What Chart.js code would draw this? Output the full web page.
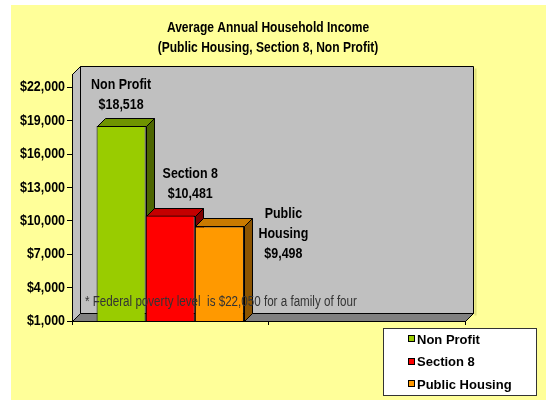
<!DOCTYPE html>
<html>
<head>
<meta charset="utf-8">
<title>Average Annual Household Income</title>
<script src="https://cdn.jsdelivr.net/npm/chart.js@4.4.1/dist/chart.umd.min.js"></script>
<style>
  html, body { margin: 0; padding: 0; background: #ffffff; }
  #wrap { position: absolute; left: 11px; top: 5px; width: 535px; height: 395px; background: #ffff99; }
</style>
</head>
<body>
<div id="wrap"><canvas id="incomeChart" width="535" height="395"></canvas></div>
<script>
// Chart data
const titleLines = ['Average Annual Household Income', '(Public Housing, Section 8, Non Profit)'];
const categories = ['', ''];
const seriesNames = ['Non Profit', 'Section 8', 'Public Housing'];
const nonProfitIncome = [18518, null];
const section8Income = [10481, null];
const publicHousingIncome = [9498, null];
const yTicks = [1000, 4000, 7000, 10000, 13000, 16000, 19000, 22000];
const yMin = 1000;
const yMax = 23200;
const barLabelLines = [['Non Profit'], ['Section 8'], ['Public', 'Housing']];
const footnote = '* Federal poverty level  is $22,050 for a family of four';

// Look
const FONT = "'Liberation Sans', Arial, sans-serif";
const SQUEEZE = 0.83; // the original uses a narrow face
const frontColors = ['#99cc00', '#ff0000', '#ff9900'];
const topColors = ['#6f9400', '#c40000', '#c97a00'];
const sideColors = ['#4d6600', '#800000', '#8c5400'];
const depth = { x: 8, y: -8 };
// where each bar label sits: dx from bar centre, dy of the last line from bar top
const labelPlacement = [{ dx: 0, dy: -21 }, { dx: 20, dy: -22 }, { dx: 64, dy: 27 }];

function formatMoney(v) {
    return '$' + Number(v).toLocaleString('en-US');
}

function px(v) {
    return Math.round(v) + 0.5;
}

function poly(ctx, pts, fill) {
    ctx.beginPath();
    ctx.moveTo(pts[0][0], pts[0][1]);
    for (let i = 1; i < pts.length; i++) ctx.lineTo(pts[i][0], pts[i][1]);
    ctx.closePath();
    ctx.fillStyle = fill;
    ctx.fill();
    ctx.stroke();
}

// text drawn a bit condensed, like Arial Narrow
function narrowText(ctx, text, x, y, align) {
    ctx.save();
    ctx.translate(x, y);
    ctx.scale(SQUEEZE, 1);
    ctx.textAlign = align;
    ctx.textBaseline = 'middle';
    ctx.fillText(text, 0, 0);
    ctx.restore();
}

// Excel style 3D box: walls, floor, bar tops and sides, text
const threeD = {
    id: 'threeD',
    beforeDraw(chart) {
        const { ctx, chartArea: a } = chart;
        const dx = depth.x, dy = depth.y;
        const L = px(a.left), R = px(a.right), T = px(a.top), B = px(a.bottom);
        ctx.save();
        ctx.lineWidth = 1;
        ctx.strokeStyle = '#000';

        // soft shadow right of the back wall
        ctx.fillStyle = '#e0e07c';
        ctx.fillRect(R + dx + 1, T + dy + 2, 2, B - T);

        // back wall
        poly(ctx, [[L + dx, T + dy], [R + dx, T + dy], [R + dx, B + dy], [L + dx, B + dy]], '#c0c0c0');
        // left wall
        poly(ctx, [[L, T], [L + dx, T + dy], [L + dx, B + dy], [L, B]], '#c0c0c0');
        // floor
        poly(ctx, [[L, B], [L + dx, B + dy], [R + dx, B + dy], [R, B]], '#808080');
        ctx.restore();
    },
    beforeDatasetsDraw(chart) {
        const { ctx, chartArea: a } = chart;
        const dx = depth.x, dy = depth.y;
        ctx.save();
        ctx.lineWidth = 1;
        ctx.strokeStyle = '#000';
        chart.data.datasets.forEach((ds, i) => {
            const meta = chart.getDatasetMeta(i);
            meta.data.forEach((bar, j) => {
                if (ds.data[j] == null) return;
                const p = bar.getProps(['x', 'y', 'base', 'width'], true);
                const l = px(p.x - p.width / 2), r = px(p.x + p.width / 2);
                const t = px(p.y), b = px(Math.min(p.base, a.bottom));
                poly(ctx, [[l, t], [l + dx, t + dy], [r + dx, t + dy], [r, t]], topColors[i]);
                poly(ctx, [[r, t], [r + dx, t + dy], [r + dx, b + dy], [r, b]], sideColors[i]);
            });
        });
        ctx.restore();
    },
    afterDraw(chart) {
        const { ctx, chartArea: a } = chart;
        const yScale = chart.scales.y;
        ctx.save();
        ctx.fillStyle = '#000';

        // title
        ctx.font = 'bold 14.5px ' + FONT;
        titleLines.forEach((line, k) => narrowText(ctx, line, 257, 23 + k * 20, 'center'));

        // value axis labels
        ctx.font = 'bold 15px ' + FONT;
        yTicks.forEach(v => narrowText(ctx, formatMoney(v), a.left - 7, yScale.getPixelForValue(v), 'right'));

        // labels over the bars
        chart.data.datasets.forEach((ds, i) => {
            const bar = chart.getDatasetMeta(i).data[0];
            const lines = barLabelLines[i].concat([formatMoney(ds.data[0])]);
            const pl = labelPlacement[i];
            const cx = bar.x + pl.dx;
            const lastY = bar.y + pl.dy;
            lines.forEach((line, k) => {
                narrowText(ctx, line, cx, lastY - (lines.length - 1 - k) * 20, 'center');
            });
        });

        // footnote
        ctx.font = '14px ' + FONT;
        ctx.fillStyle = '#333';
        narrowText(ctx, footnote, a.left + 13, a.bottom - 19, 'left');

        // legend box
        ctx.fillStyle = '#fff';
        ctx.fillRect(372, 323, 153, 67);
        ctx.strokeStyle = '#333';
        ctx.lineWidth = 1;
        ctx.strokeRect(372.5, 323.5, 153, 67);
        ctx.font = 'bold 13px ' + FONT;
        ctx.textAlign = 'left';
        ctx.textBaseline = 'middle';
        ctx.strokeStyle = '#000';
        chart.data.datasets.forEach((ds, i) => {
            const cy = 334 + i * 22.5;
            ctx.fillStyle = ds.backgroundColor;
            ctx.fillRect(397, Math.round(cy) - 4, 7, 7);
            ctx.strokeRect(397.5, Math.round(cy) - 3.5, 6, 6);
            ctx.fillStyle = '#000';
            ctx.fillText(ds.label, 406, cy + 1);
        });
        ctx.restore();
    }
};

new Chart(document.getElementById('incomeChart'), {
    type: 'bar',
    data: {
        labels: categories,
        datasets: [
            { label: seriesNames[0], data: nonProfitIncome, backgroundColor: frontColors[0] },
            { label: seriesNames[1], data: section8Income, backgroundColor: frontColors[1] },
            { label: seriesNames[2], data: publicHousingIncome, backgroundColor: frontColors[2] }
        ]
    },
    options: {
        responsive: false,
        animation: false,
        layout: { padding: { left: 0, right: 81, top: 69, bottom: 75 } },
        datasets: {
            bar: {
                barPercentage: 1,
                categoryPercentage: 0.75,
                borderWidth: 1,
                borderColor: '#000',
                borderSkipped: false
            }
        },
        plugins: {
            legend: { display: false },
            tooltip: { enabled: false },
            title: { display: false }
        },
        scales: {
            x: {
                ticks: { display: false },
                grid: { offset: true, drawOnChartArea: false, color: '#000', tickLength: 4 },
                border: { color: '#000' },
                afterFit(scale) { scale.height = 4; }
            },
            y: {
                min: yMin,
                max: yMax,
                afterBuildTicks(scale) {
                    scale.ticks = yTicks.map(v => ({ value: v }));
                },
                ticks: { display: false },
                grid: { drawOnChartArea: false, color: '#000', tickLength: 5 },
                border: { color: '#000' },
                afterFit(scale) { scale.width = 61; }
            }
        }
    },
    plugins: [threeD]
});
</script>
</body>
</html>
